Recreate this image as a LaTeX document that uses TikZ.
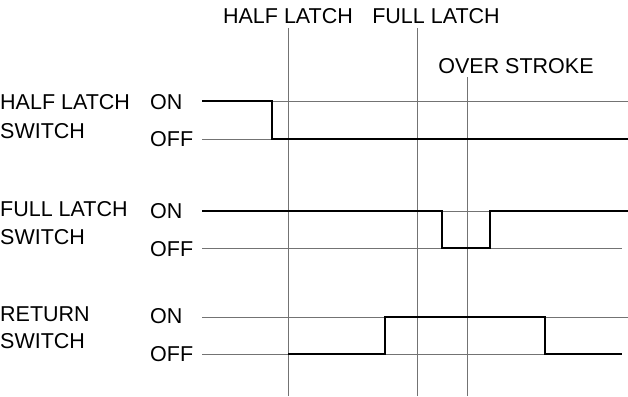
\documentclass[tikz,border=0pt]{standalone}
\usepackage{fontspec}
\setmainfont{Liberation Sans}
\begin{document}
\begin{tikzpicture}[x=1pt,y=-1pt,
  lbl/.style={inner sep=0pt,anchor=base west,font=\fontsize{21.5}{24}\selectfont},
  hdr/.style={inner sep=0pt,anchor=base,font=\fontsize{21.5}{24}\selectfont},
  thin/.style={line width=0.8pt,draw=black!55},
  sig/.style={line width=2.4pt,draw=black,line join=miter,line cap=butt}]
\useasboundingbox (0,0) rectangle (628,396);
% headers
\node[hdr] (hl) at (288,23.5) {HALF LATCH};
\node[hdr] (fl) at (436,23.5) {FULL LATCH};
\node[hdr] (os) at (516,73) {OVER STROKE};
% left labels
\node[lbl] (r1a) at (0,109) {HALF LATCH};
\node[lbl] (r1b) at (0,138.5) {SWITCH};
\node[lbl] (r1on) at (150,109) {ON};
\node[lbl] (r1off) at (150,146.5) {OFF};
\node[lbl] (r2a) at (0,216.5) {FULL LATCH};
\node[lbl] (r2b) at (0,244.5) {SWITCH};
\node[lbl] (r2on) at (150,218.5) {ON};
\node[lbl] (r2off) at (150,256) {OFF};
\node[lbl] (r3a) at (0,321.5) {RETURN};
\node[lbl] (r3b) at (0,348.5) {SWITCH};
\node[lbl] (r3on) at (150,323.5) {ON};
\node[lbl] (r3off) at (150,361) {OFF};
% vertical reference lines
\draw[thin] (288,28) -- (288,396);
\draw[thin] (417,28) -- (417,396);
\draw[thin] (467,77) -- (467,396);
% horizontal reference lines
\draw[thin] (202,101) -- (628,101);
\draw[thin] (202,139) -- (628,139);
\draw[thin] (202,211) -- (628,211);
\draw[thin] (202,248) -- (622,248);
\draw[thin] (202,317) -- (628,317);
\draw[thin] (202,354) -- (622,354);
% signals
\draw[sig] (202,101) -- (272,101) -- (272,139) -- (628,139);
\draw[sig] (202,211) -- (442,211) -- (442,248) -- (490,248) -- (490,211) -- (628,211);
\draw[sig] (288,354) -- (385,354) -- (385,317) -- (545,317) -- (545,354) -- (622,354);
\end{tikzpicture}
\end{document}
